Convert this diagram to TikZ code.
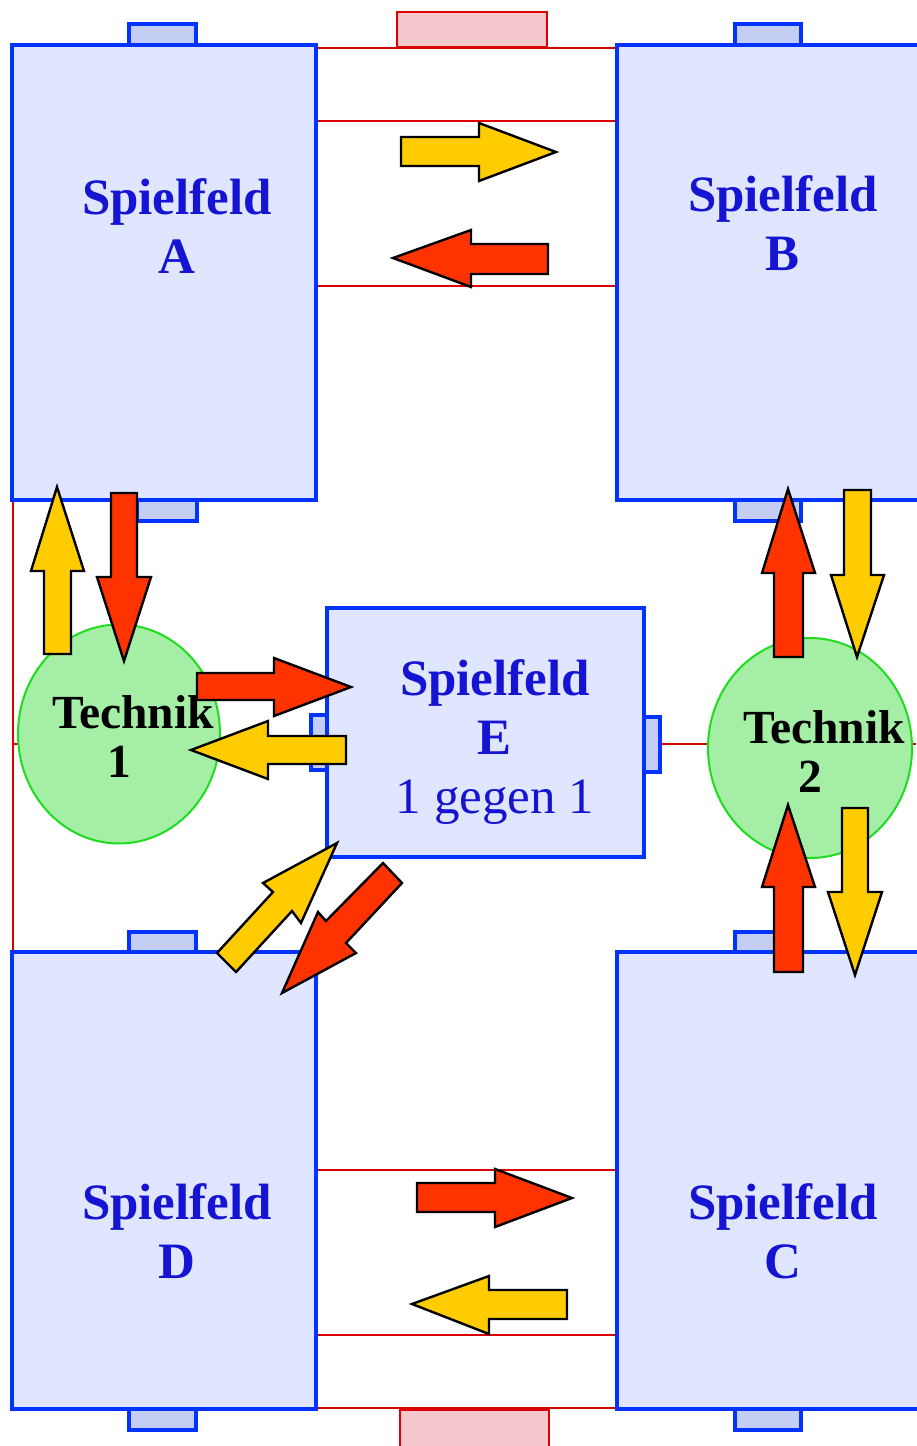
\documentclass[tikz,border=0pt]{standalone}
\usepackage{fontspec}
\setmainfont{Liberation Serif}
\definecolor{fieldblue}{RGB}{0,51,255}
\definecolor{fieldfill}{RGB}{224,230,255}
\definecolor{goalfill}{RGB}{196,206,244}
\definecolor{linered}{RGB}{221,0,0}
\definecolor{goalred}{RGB}{245,200,205}
\definecolor{circfill}{RGB}{165,238,165}
\definecolor{circline}{RGB}{30,220,30}
\definecolor{txtblue}{RGB}{20,20,210}
\definecolor{arrred}{RGB}{255,51,0}
\definecolor{arryel}{RGB}{255,204,0}
\tikzset{
  field/.style={draw=fieldblue,line width=4pt,fill=fieldfill},
  goalbox/.style={draw=fieldblue,line width=4pt,fill=goalfill},
  redgoal/.style={draw=linered,line width=2pt,fill=goalred},
  redline/.style={draw=linered,line width=2pt},
  techcirc/.style={draw=circline,line width=2pt,fill=circfill,ellipse,inner sep=0pt},
  fieldlabel/.style={text=txtblue,align=center,font=\fontsize{51}{59}\selectfont\bfseries,inner sep=0pt},
  techlabel/.style={text=black,align=center,font=\fontsize{47.5}{49}\selectfont\bfseries,inner sep=0pt},
  redarrow/.style={draw=black,line width=2.4pt,line join=miter,fill=arrred},
  yelarrow/.style={draw=black,line width=2.4pt,line join=miter,fill=arryel}
}
\usetikzlibrary{shapes.geometric}
\begin{document}
\begin{tikzpicture}[x=1pt,y=-1pt]
\useasboundingbox (0,0) rectangle (916,1446);
% red lines
\draw[redline] (316,48) -- (617,48);
\draw[redline] (316,121) -- (617,121);
\draw[redline] (316,286) -- (617,286);
\draw[redline] (316,1170) -- (617,1170);
\draw[redline] (316,1335) -- (617,1335);
\draw[redline] (316,1408) -- (617,1408);
\draw[redline] (13,500) -- (13,952);
\draw[redline] (13,744) -- (25,744);
\draw[redline] (655,744) -- (916,744);
% red goals
\draw[redgoal] (397,12) rectangle (547,47);
\draw[redgoal] (400,1410) rectangle (549,1450);
% blue goals
\draw[goalbox] (129,24) rectangle (196,45);
\draw[goalbox] (137,500) rectangle (197,521);
\draw[goalbox] (735,24) rectangle (801,45);
\draw[goalbox] (735,500) rectangle (801,521);
\draw[goalbox] (129,932) rectangle (196,952);
\draw[goalbox] (129,1408) rectangle (196,1430);
\draw[goalbox] (735,932) rectangle (801,952);
\draw[goalbox] (735,1408) rectangle (801,1430);
\draw[goalbox] (311,715) rectangle (327,770);
\draw[goalbox] (644,717) rectangle (660,772);
% fields
\draw[field] (12,45) rectangle (316,500);
\draw[field] (617,45) rectangle (925,500);
\draw[field] (12,952) rectangle (316,1409);
\draw[field] (617,952) rectangle (925,1409);
\draw[field] (327,608) rectangle (644,857);
% technik circles
\node[techcirc,minimum width=202pt,minimum height=219pt] (t1) at (119,734) {};
\node[techcirc,minimum width=204pt,minimum height=220pt] (t2) at (810,748) {};
% arrows
\draw[yelarrow] (401,137) -- (479,137) -- (479,123) -- (556,152) -- (479,181) -- (479,166) -- (401,166) -- cycle;
\draw[redarrow] (548,244) -- (471,244) -- (471,230) -- (393,258) -- (471,287) -- (471,274) -- (548,274) -- cycle;
\draw[redarrow] (417,1183) -- (495,1183) -- (495,1169) -- (572,1198) -- (495,1227) -- (495,1212) -- (417,1212) -- cycle;
\draw[yelarrow] (567,1290) -- (489,1290) -- (489,1276) -- (412,1304) -- (489,1334) -- (489,1319) -- (567,1319) -- cycle;
\draw[yelarrow] (44,654) -- (44,571) -- (31,571) -- (57,487) -- (84,571) -- (71,571) -- (71,654) -- cycle;
\draw[redarrow] (111,493) -- (111,577) -- (97,577) -- (124,661) -- (151,577) -- (137,577) -- (137,493) -- cycle;
\draw[redarrow] (197,673) -- (274,673) -- (274,658) -- (351,687) -- (274,716) -- (274,700) -- (197,700) -- cycle;
\draw[yelarrow] (346,736) -- (268,736) -- (268,721) -- (191,750) -- (268,779) -- (268,764) -- (346,764) -- cycle;
\draw[redarrow] (774,657) -- (774,573) -- (762,573) -- (788,489) -- (815,573) -- (803,573) -- (803,657) -- cycle;
\draw[yelarrow] (844,490) -- (844,575) -- (831,575) -- (857,657) -- (884,575) -- (871,575) -- (871,490) -- cycle;
\draw[redarrow] (774,972) -- (774,887) -- (762,887) -- (788,805) -- (815,887) -- (803,887) -- (803,972) -- cycle;
\draw[yelarrow] (842,808) -- (842,892) -- (828,892) -- (855,975) -- (882,892) -- (868,892) -- (868,808) -- cycle;
\draw[yelarrow] (217,953) -- (273,892) -- (263,883) -- (337,843) -- (301,923) -- (292,911) -- (236,972) -- cycle;
\draw[redarrow] (383,863) -- (326,921) -- (318,912) -- (282,993) -- (356,953) -- (346,943) -- (402,883) -- cycle;
% labels
\node[fieldlabel] (la) at (177,226) {Spielfeld\\A};
\node[fieldlabel] (lb) at (783,223) {Spielfeld\\B};
\node[fieldlabel] (ld) at (177,1231) {Spielfeld\\D};
\node[fieldlabel] (lc) at (783,1231) {Spielfeld\\C};
\node[fieldlabel] (le) at (495,742) {Spielfeld\\E\\{\mdseries 1 gegen 1}};
\node[techlabel] (lt1) at (133,737) {Technik\\1\hspace*{28pt}};
\node[techlabel] (lt2) at (824,752) {Technik\\2\hspace*{28pt}};
\end{tikzpicture}
\end{document}
